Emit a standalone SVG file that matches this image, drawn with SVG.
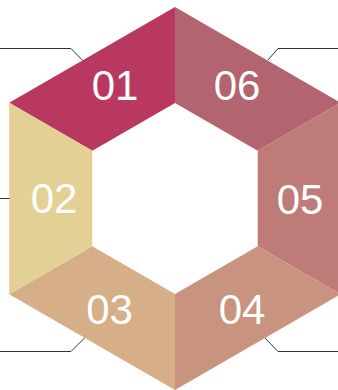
<svg xmlns="http://www.w3.org/2000/svg" width="338" height="390" viewBox="0 0 338 390">
<style>
.lbl{font-family:"Liberation Sans",Arial,sans-serif;font-size:42px;fill:#ffffff;text-anchor:middle}
.conn{fill:none;stroke:#333333;stroke-width:1}
</style>
<rect width="338" height="390" fill="#ffffff"/>
<g id="seg01"><polygon points="175,7 9.2,102.75 92.3,150.75 175,103" fill="#B93860"/><text class="lbl" x="115" y="100">01</text></g>
<g id="seg06"><polygon points="175,7 340.8,102.75 257.7,150.75 175,103" fill="#B2656F"/><text class="lbl" x="237" y="100">06</text></g>
<g id="seg05"><polygon points="340.8,102.75 340.8,294.25 257.7,246.25 257.7,150.75" fill="#BE7B77"/><text class="lbl" x="300" y="214">05</text></g>
<g id="seg04"><polygon points="340.8,294.25 175,390 175,294 257.7,246.25" fill="#C9947F"/><text class="lbl" x="242" y="324">04</text></g>
<g id="seg03"><polygon points="175,390 9.2,294.25 92.3,246.25 175,294" fill="#D6AF88"/><text class="lbl" x="109.5" y="324">03</text></g>
<g id="seg02"><polygon points="9.2,294.25 9.2,102.75 92.3,150.75 92.3,246.25" fill="#E3D094"/><text class="lbl" x="54" y="213">02</text></g>
<g id="connectors">
<polyline class="conn" points="0,48.5 71,48.5 82.7,60.5"/>
<polyline class="conn" points="268,60 278,48.5 338,48.5"/>
<polyline class="conn" points="0,198.5 9.5,198.5"/>
<polyline class="conn" points="0,351.5 71,351.5 84.5,338"/>
<polyline class="conn" points="265,338 278,351.5 338,351.5"/>
</g>
</svg>
